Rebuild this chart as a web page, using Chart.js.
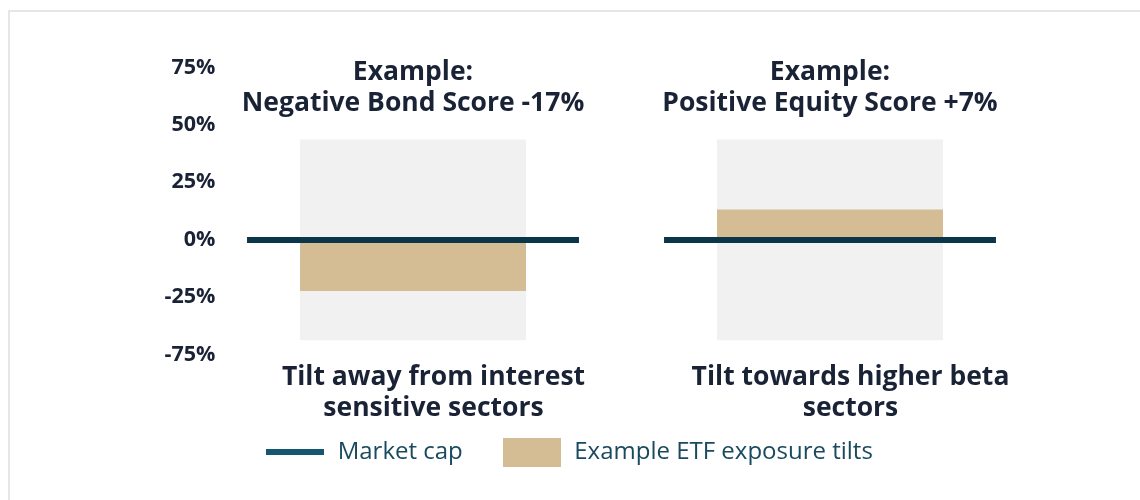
<!DOCTYPE html>
<html>
<head>
<meta charset="utf-8">
<script src="https://cdn.jsdelivr.net/npm/chart.js@4.4.1/dist/chart.umd.min.js"></script>
<style>
    body { margin: 0; background: #ffffff; }
    #card {
        position: absolute; left: 8px; top: 10px; width: 1140px; height: 500px;
        border-top: 2px solid #e6e6e6; border-left: 2px solid #e6e6e6;
    }
    #wrap { position: absolute; left: 0; top: 0; width: 1140px; height: 500px; }
</style>
</head>
<body>
<div id="card"></div>
<div id="wrap"><canvas id="tiltChart"></canvas></div>
<script>
var categories = ["Bond", "Equity"];
var topTitles = [
    ["Example:", "Negative Bond Score -17%"],
    ["Example:", "Positive Equity Score +7%"]
];
var bottomLabels = [
    ["Tilt away from interest", "sensitive sectors"],
    ["Tilt towards higher beta", "sectors"]
];
var marketCap = [0, 0];
var etfTilts = [-23, 12.5];
var panelRange = [[-44.5, 43], [-44.5, 43]];
var yTickValues = [-50, -25, 0, 25, 50, 75];
var yTickLabels = ["-75%", "-25%", "0%", "25%", "50%", "75%"];

var navy = "#1a2236";
var textFont = "bold 26.5px 'Open Sans'";

function legendSwatch(w, h, color) {
    var c = document.createElement("canvas");
    c.width = w;
    c.height = h;
    var cx = c.getContext("2d");
    cx.fillStyle = color;
    cx.fillRect(0, 0, w, h);
    return c;
}
var lineSwatch = legendSwatch(58, 6, "#155670");
var boxSwatch = legendSwatch(58, 29, "#d4bd94");

// panel titles above and captions below, placed on the category positions
var textPlugin = {
    id: "panelText",
    afterDraw: function (chart) {
        var ctx = chart.ctx;
        var x = chart.scales.x;
        ctx.save();
        ctx.fillStyle = navy;
        ctx.font = textFont;
        ctx.textAlign = "center";
        ctx.textBaseline = "alphabetic";
        categories.forEach(function (c, i) {
            var px = x.getPixelForValue(i);
            topTitles[i].forEach(function (t, j) {
                ctx.fillText(t, px, 80 + j * 31);
            });
            bottomLabels[i].forEach(function (t, j) {
                ctx.fillText(t, px + 20.5, 385 + j * 30.5);
            });
        });
        ctx.restore();
    }
};

var ctx = document.getElementById("tiltChart").getContext("2d");
var tiltChart = new Chart(ctx, {
    type: "bar",
    data: {
        labels: categories,
        datasets: [
            {
                label: "Market cap",
                data: marketCap.map(function (v) { return [v - 2.1, v + 0.5]; }),
                backgroundColor: "#0b3548",
                barPercentage: 0.796,
                categoryPercentage: 1,
                grouped: false,
                pointStyle: lineSwatch
            },
            {
                label: "Example ETF exposure tilts",
                data: etfTilts,
                backgroundColor: "#d4bd94",
                barPercentage: 0.542,
                categoryPercentage: 1,
                grouped: false,
                pointStyle: boxSwatch
            },
            {
                label: "panel",
                data: panelRange,
                backgroundColor: "#f1f1f1",
                barPercentage: 0.542,
                categoryPercentage: 1,
                grouped: false
            }
        ]
    },
    options: {
        responsive: true,
        maintainAspectRatio: false,
        animation: false,
        layout: {
            padding: { left: 99, right: 101.5, top: 66, bottom: 26 }
        },
        scales: {
            x: {
                grid: { display: false },
                border: { display: false },
                ticks: { display: false },
                afterFit: function (scale) { scale.height = 48.5; }
            },
            y: {
                min: -50,
                max: 75,
                grid: { display: false },
                border: { display: false },
                afterBuildTicks: function (scale) {
                    scale.ticks = yTickValues.map(function (v) { return { value: v }; });
                },
                ticks: {
                    color: navy,
                    font: { family: "'Open Sans'", size: 21.5, weight: "bold" },
                    mirror: true,
                    crossAlign: "far",
                    padding: -40,
                    labelOffset: 1.5,
                    callback: function (v) { return yTickLabels[yTickValues.indexOf(v)]; }
                },
                afterFit: function (scale) { scale.width = 105.5; }
            }
        },
        plugins: {
            legend: {
                position: "bottom",
                labels: {
                    usePointStyle: true,
                    pointStyleWidth: 61,
                    padding: 38.5,
                    color: "#1a4a5f",
                    font: { family: "'Open Sans'", size: 24 },
                    filter: function (item) { return item.text !== "panel"; }
                }
            },
            tooltip: { enabled: false }
        }
    },
    plugins: [textPlugin]
});
</script>
</body>
</html>
